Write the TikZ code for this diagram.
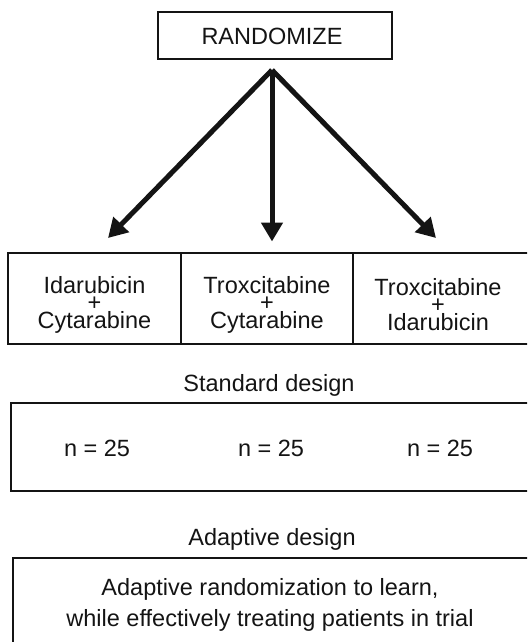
\documentclass[tikz,border=0pt]{standalone}
\usepackage{fontspec}
\setmainfont{Liberation Sans}
\usetikzlibrary{arrows.meta}
\definecolor{ink}{HTML}{141414}
\begin{document}
\begin{tikzpicture}[x=1pt,y=-1pt,
  box/.style={draw=ink, line width=1.3pt, inner sep=0pt, rectangle},
  txt/.style={text=ink, font=\fontsize{23.5}{17.5}\selectfont, inner sep=0pt, align=center},
  lbl/.style={text=ink, font=\fontsize{23.5}{28}\selectfont, inner sep=0pt, anchor=base},
  fork/.style={draw=ink, line width=5pt, -{Triangle[length=19pt,width=21pt]}}]
\useasboundingbox (0,0) rectangle (527,642);
\clip (0,0) rectangle (527,642);

% randomization box and the three branches
\node[box, minimum width=234pt, minimum height=47pt] (rand) at (275,35.5) {};
\node[txt] (randtxt) at (272,36.7) {RANDOMIZE};
\coordinate (split) at (272,70);
\coordinate (tipA) at (108,238);
\coordinate (tipB) at (272,241.5);
\coordinate (tipC) at (436,238);
\draw[fork] (split) -- (tipA);
\draw[fork] (split) -- (tipB);
\draw[fork] (split) -- (tipC);

% treatment arms
\node[box, minimum width=173pt, minimum height=91pt] (armA) at (94.5,298.5) {};
\node[box, minimum width=172pt, minimum height=91pt] (armB) at (267,298.5) {};
\node[box, minimum width=182pt, minimum height=91pt] (armC) at (444,298.5) {};
\node[txt] (armAtxt) at (94.5,304.5) {Idarubicin\\+\\Cytarabine};
\node[txt] (armBtxt) at (267,304.5) {Troxcitabine\\+\\Cytarabine};
\node[txt] (armCtxt) at (438,304.5) {Troxcitabine\\+\\Idarubicin};

% standard design
\node[lbl] (stdlbl) at (269,391.7) {Standard design};
\node[box, minimum width=524pt, minimum height=88pt] (std) at (273,447) {};
\node[lbl] (nA) at (97,456.7) {n = 25};
\node[lbl] (nB) at (271,456.7) {n = 25};
\node[lbl] (nC) at (440,456.7) {n = 25};

% adaptive design
\node[lbl] (adlbl) at (272,545) {Adaptive design};
\node[box, minimum width=522pt, minimum height=102pt] (ad) at (274,609) {};
\node[text=ink, font=\fontsize{23.5}{31.5}\selectfont, inner sep=0pt, align=center] (adtxt) at (270,604.7)
  {Adaptive randomization to learn,\\while effectively treating patients in trial};
\end{tikzpicture}
\end{document}
